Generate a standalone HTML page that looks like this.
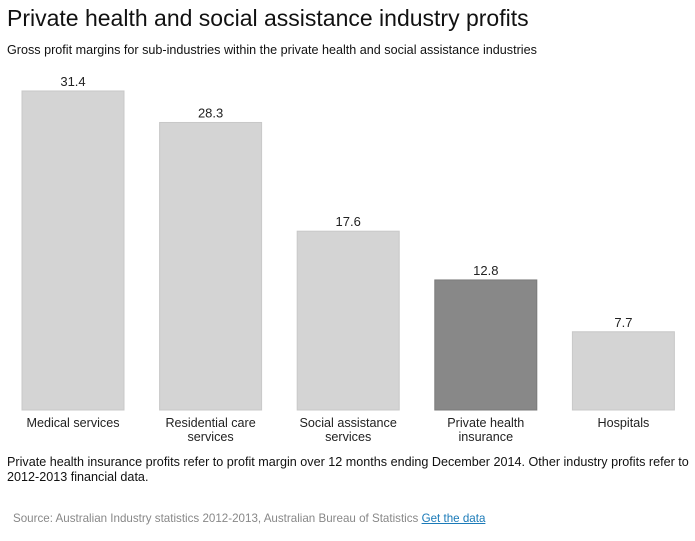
<!DOCTYPE html>
<html><head><meta charset="utf-8"><style>
body{margin:0;width:695px;height:541px;background:#fff;font-family:"Liberation Sans",Arial,sans-serif;color:#111;position:relative;overflow:hidden}
#title{position:absolute;left:7px;top:5px;font-size:23px;white-space:nowrap}
#sub{position:absolute;left:7px;top:43px;font-size:12.6px;white-space:nowrap}
#note{position:absolute;left:7px;top:455px;font-size:12.6px;line-height:15px;width:688px}
#src{position:absolute;left:13px;top:512px;font-size:11.6px;color:#888;white-space:nowrap}
#src a{color:#1a7ab8;text-decoration:underline}
svg{position:absolute;left:0;top:0}
</style></head><body>
<div id="title">Private health and social assistance industry profits</div>
<div id="sub">Gross profit margins for sub-industries within the private health and social assistance industries</div>
<svg id="chart" width="695" height="450"></svg>
<div id="note">Private health insurance profits refer to profit margin over 12 months ending December 2014. Other industry profits refer to 2012-2013 financial data.</div>
<div id="src">Source: Australian Industry statistics 2012-2013, Australian Bureau of Statistics <a>Get the data</a></div>
<script>
const categories=[["Medical services"],["Residential care","services"],["Social assistance","services"],["Private health","insurance"],["Hospitals"]];
const values=[31.4,28.3,17.6,12.8,7.7];
const highlight=[false,false,false,true,false];
const NS="http://www.w3.org/2000/svg";
const svg=document.getElementById('chart');
const baseY=410, pxPerUnit=10.16, x0=22, step=137.6, bw=102;
const y=v=>baseY-v*pxPerUnit;
const x=i=>x0+i*step;
function mk(t,a){const e=document.createElementNS(NS,t);for(const k in a)e.setAttribute(k,a[k]);svg.appendChild(e);return e;}
values.forEach((v,i)=>{
  const r=mk('rect',{x:x(i),y:y(v),width:bw,height:baseY-y(v),fill:highlight[i]?'#888':'#d4d4d4',stroke:highlight[i]?'#7a7a7a':'#c8c8c8','stroke-width':1});
  
  
  const t=mk('text',{x:x(i)+bw/2,y:y(v)-5,'text-anchor':'middle','font-size':13,fill:'#222'});
  t.textContent=v.toFixed(1);
  
  
  categories[i].forEach((line,j)=>{
    const c=mk('text',{x:x(i)+bw/2,y:427+j*14,'text-anchor':'middle','font-size':12.6,fill:'#222'});
    c.textContent=line;
    
    
  });
});
</script>
</body></html>
